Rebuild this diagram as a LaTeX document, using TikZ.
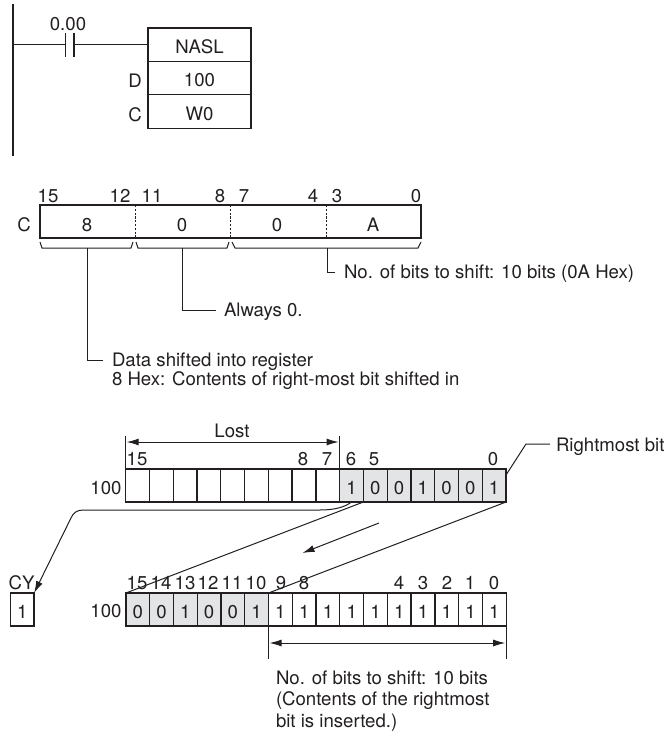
\documentclass[tikz,border=0pt]{standalone}
\usepackage{fontspec}
\setmainfont{TeX Gyre Heros}
\usetikzlibrary{arrows.meta}
\definecolor{ink}{HTML}{231F20}
\definecolor{shade}{HTML}{E3E4E6}
\tikzset{
  lbl/.style={inner sep=0pt,outer sep=0pt,text=ink,font=\fontsize{18.6}{21.8}\selectfont},
  ltxt/.style={lbl,anchor=west,align=left},
  wire/.style={draw=ink,line width=1pt},
  cell/.style={draw=ink,line width=1.3pt,minimum width=23.77pt,minimum height=33pt,inner sep=0pt,outer sep=0pt,text=ink,text height=17.6pt,text depth=0pt,font=\fontsize{18.6}{20}\selectfont},
  shaded cell/.style={cell,fill=shade},
  instr/.style={draw=ink,line width=1.3pt,minimum width=103pt,minimum height=33.4pt,inner sep=0pt,outer sep=0pt,text=ink,text height=17.2pt,text depth=0pt,font=\fontsize{18.6}{20}\selectfont},
  tip/.style={-{Latex[length=12pt,width=7pt]}},
  tips/.style={{Latex[length=12pt,width=7pt]}-{Latex[length=12pt,width=7pt]}}
}
\begin{document}
\begin{tikzpicture}[x=1pt,y=-1pt]
\useasboundingbox (0,0) rectangle (666,733);
% ladder
\coordinate (railt) at (13,4);
\coordinate (railb) at (13,156);
\coordinate (rung) at (13,44.5);
\draw[wire,line width=1.2pt] (railt) -- (railb);
\node[instr] (nasl) at (199.5,44.7) {NASL};
\node[instr] (d100) at (199.5,78.1) {100};
\node[instr] (w0) at (199.5,111.5) {W0};
\node[lbl] (cap) at (68,24) {0.00};
\node[lbl] (dl) at (135,80.5) {D};
\node[lbl] (cl) at (135,114.5) {C};
\coordinate (c1t) at (65.5,33); \coordinate (c1b) at (65.5,57);
\coordinate (c2t) at (74,33); \coordinate (c2b) at (74,57);
\draw[wire] (rung) -- (c1t |- rung);
\draw[wire] (c2t |- rung) -- (nasl.west |- rung);
\draw[wire,line width=1.2pt] (c1t) -- (c1b);
\draw[wire,line width=1.2pt] (c2t) -- (c2b);
% C word
\node[draw=ink,line width=1.2pt,minimum width=381pt,minimum height=33pt,inner sep=0,outer sep=0] (word) at (230.5,221.5) {};
\foreach \x in {135.5,230.5,326}
  \draw[ink,line width=1pt,dash pattern=on 2.2pt off 1.6pt] (\x,205) -- (\x,238);
\node[lbl] (wc) at (24,225) {C};
\foreach \t/\x in {8/87,0/182,0/277,A/373}
  \node[lbl] at (\x,225) {\t};
\foreach \t/\x in {15/48,12/120,11/152,8/220,7/244,4/313,3/337,0/416}
  \node[lbl] at (\x,196) {\t};
\draw[wire] (40,242) -- (42,248) -- (131,248) -- (133,242);
\draw[wire] (136,242) -- (138,248) -- (227,248) -- (229,242);
\draw[wire] (232,242) -- (235,248) -- (418,248) -- (421,242);
\node[ltxt] (t1) at (344,273.5) {No. of bits to shift: 10 bits (0A Hex)};
\node[ltxt] (t2) at (224,311.5) {Always 0.};
\node[ltxt,font=\fontsize{18.6}{19}\selectfont] (t3) at (112,371.5) {Data shifted into register\\8 Hex: Contents of right-most bit shifted in};
\coordinate (b1) at (87,248); \coordinate (b2) at (182,248); \coordinate (b3) at (327.5,248);
\draw[wire] (b3) |- ([xshift=-9pt,yshift=1.5pt]t1.west);
\draw[wire] (b2) |- ([xshift=-8pt,yshift=1.5pt]t2.west);
\draw[wire] (b1) |- (103,360.5);
% top register
\foreach \i/\v in {15/,14/,13/,12/,11/,10/,9/,8/,7/}
  \node[cell] (a\i) at ({125.7+23.77*(15-\i)+11.885},485.5) {\v};
\foreach \i/\v in {6/1,5/0,4/0,3/1,2/0,1/0,0/1}
  \node[shaded cell] (a\i) at ({125.7+23.77*(15-\i)+11.885},485.5) {\v};
\node[lbl] (a100) at (106,488) {100};
\foreach \t/\x in {15/137,8/303,7/327,6/351,5/374,0/493}
  \node[lbl] at (\x,459) {\t};
\node[lbl] (lost) at (232,431) {Lost};
\coordinate (lt1) at (a15.north west |- 0,436);
\coordinate (lt2) at (a7.north east |- 0,436);
\draw[wire] (lt1) -- (a15.north west);
\draw[wire] (lt2) -- (a7.north east);
\draw[wire,tips,shorten >=1pt,shorten <=1pt] (a15.north west |- 0,442) -- (a7.north east |- 0,442);
% bottom register
\node[cell] (cy) at (22.2,609.5) {1};
\node[lbl] (cyl) at (21.5,583) {CY};
\foreach \i/\v in {15/0,14/0,13/1,12/0,11/0,10/1}
  \node[shaded cell] (b\i) at ({125.9+23.77*(15-\i)+11.885},609.5) {\v};
\foreach \i in {9,...,0}
  \node[cell] (b\i) at ({125.9+23.77*(15-\i)+11.885},609.5) {1};
\node[lbl] (b100) at (106,611) {100};
\foreach \t/\x in {15/137,14/161,13/185,12/208,11/232,10/256,9/281,8/304,4/399,3/423,2/447,1/470,0/494}
  \node[lbl] at (\x,583) {\t};
\draw[wire] (a5.south west) -- (b15.north west);
\draw[wire] (a0.south east) -- (b9.north west);
\coordinate (m1) at (379,523); \coordinate (m2) at (302.5,553);
\draw[wire,tip] (m1) -- (m2);
\coordinate (r1) at (526,444);
\node[ltxt] (rb) at (556,446.5) {Rightmost bit};
\draw[wire] (a0.east |- 0,475) -- (r1) -- ([xshift=-6pt]rb.west |- r1);
\draw[wire,tip] (a6.south) .. controls (345,507) and (335,510) .. (320,510) -- (83,510) .. controls (77,510) and (73,513) .. (71,518) -- (cy.north east);
\coordinate (e1) at (b9.south west |- 0,659);
\coordinate (e2) at (b0.south east |- 0,659);
\draw[wire] (b9.south west) -- (e1);
\draw[wire] (b0.south east) -- (e2);
\draw[wire,tips,shorten >=1pt,shorten <=1pt] (e1 |- 0,643) -- (e2 |- 0,643);
\node[ltxt] (t4) at (276,701) {No. of bits to shift: 10 bits\\(Contents of the rightmost\\bit is inserted.)};
\end{tikzpicture}
\end{document}
